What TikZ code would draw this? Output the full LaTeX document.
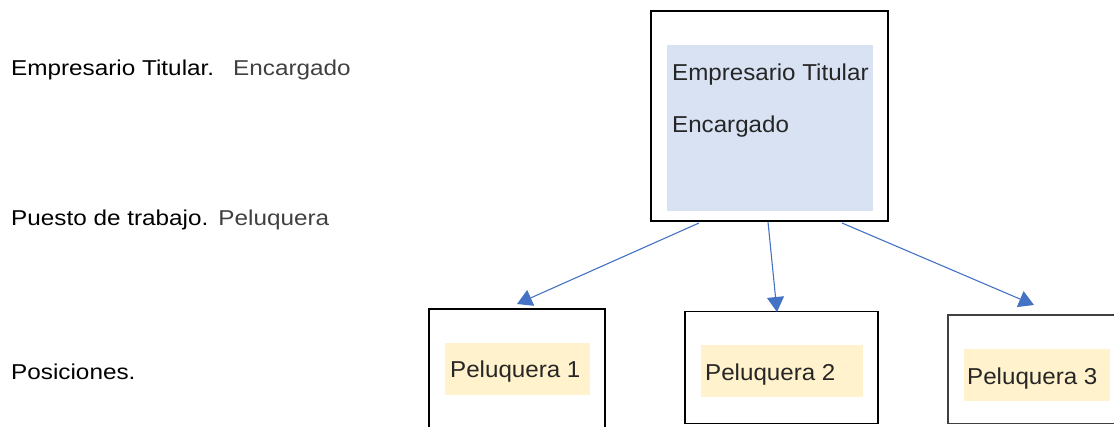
\documentclass[tikz,border=0pt]{standalone}
\usepackage{fontspec}
\usetikzlibrary{arrows.meta}
\newfontfamily\sidefont[FakeStretch=1.13]{Liberation Sans}
\newfontfamily\boxfont[FakeStretch=1.05]{Liberation Sans}
\definecolor{linkblue}{HTML}{4472C4}
\definecolor{paleblue}{HTML}{D9E2F3}
\definecolor{paleyellow}{HTML}{FFF2CC}
\definecolor{softgray}{HTML}{404040}
\definecolor{boxtext}{HTML}{262626}
\tikzset{
  frame/.style={draw=black, line width=1.2pt, fill=white, inner sep=0pt, outer sep=0pt},
  panel/.style={inner sep=0pt, outer sep=0pt},
  sidelabel/.style={anchor=base west, inner sep=0pt, font=\sidefont\fontsize{21.5}{25}\selectfont},
  boxlabel/.style={anchor=base west, inner sep=0pt, text=boxtext, font=\boxfont\fontsize{23}{27}\selectfont},
  link/.style={draw=linkblue, line width=1.1pt, -{Triangle[length=15pt,width=17pt]}, color=linkblue}
}
\begin{document}
\begin{tikzpicture}[x=1pt, y=-1pt]
  \useasboundingbox (0,0) rectangle (1114,426);
  \clip (0,0) rectangle (1114,426);

  % level names on the left
  \node[sidelabel] (lv1) at (11,75) {Empresario Titular.\hspace{19pt}\textcolor{softgray}{Encargado}};
  \node[sidelabel] (lv2) at (11,225) {Puesto de trabajo.\hspace{10pt}\textcolor{softgray}{Peluquera}};
  \node[sidelabel] (lv3) at (11,379) {Posiciones.};

  % head of the organisation
  \node[frame, minimum width=237pt, minimum height=210pt] (head) at (769.5,116) {};
  \node[panel, fill=paleblue, minimum width=206pt, minimum height=166pt] (headin) at (770,128) {};
  \node[boxlabel] (headt1) at (672,80) {Empresario Titular};
  \node[boxlabel] (headt2) at (672,132) {Encargado};

  % positions
  \node[frame, minimum width=176pt, minimum height=140pt] (p1) at (517,379) {};
  \node[panel, fill=paleyellow, minimum width=145pt, minimum height=52pt] (p1in) at (517.5,369) {};
  \node[boxlabel] (p1t) at (450,377) {Peluquera 1};

  \node[frame, minimum width=193pt, minimum height=112pt] (p2) at (781.5,367.5) {};
  \node[panel, fill=paleyellow, minimum width=162pt, minimum height=52pt] (p2in) at (782,371) {};
  \node[boxlabel] (p2t) at (705,380) {Peluquera 2};

  \node[frame, draw=softgray, line width=1.5pt, minimum width=190pt, minimum height=108.5pt] (p3) at (1043,369.25) {};
  \node[panel, fill=paleyellow, minimum width=146pt, minimum height=52pt] (p3in) at (1037,375) {};
  \node[boxlabel] (p3t) at (967,384) {Peluquera 3};

  % connector ends
  \coordinate (s1) at (699,223);
  \coordinate (s2) at (768,222);
  \coordinate (s3) at (842,223);
  \coordinate (e1) at (517,304);
  \coordinate (e2) at (777,312);
  \coordinate (e3) at (1034,305);

  \draw[link] (s1) -- (e1);
  \draw[link] (s2) -- (e2);
  \draw[link] (s3) -- (e3);
\end{tikzpicture}
\end{document}
